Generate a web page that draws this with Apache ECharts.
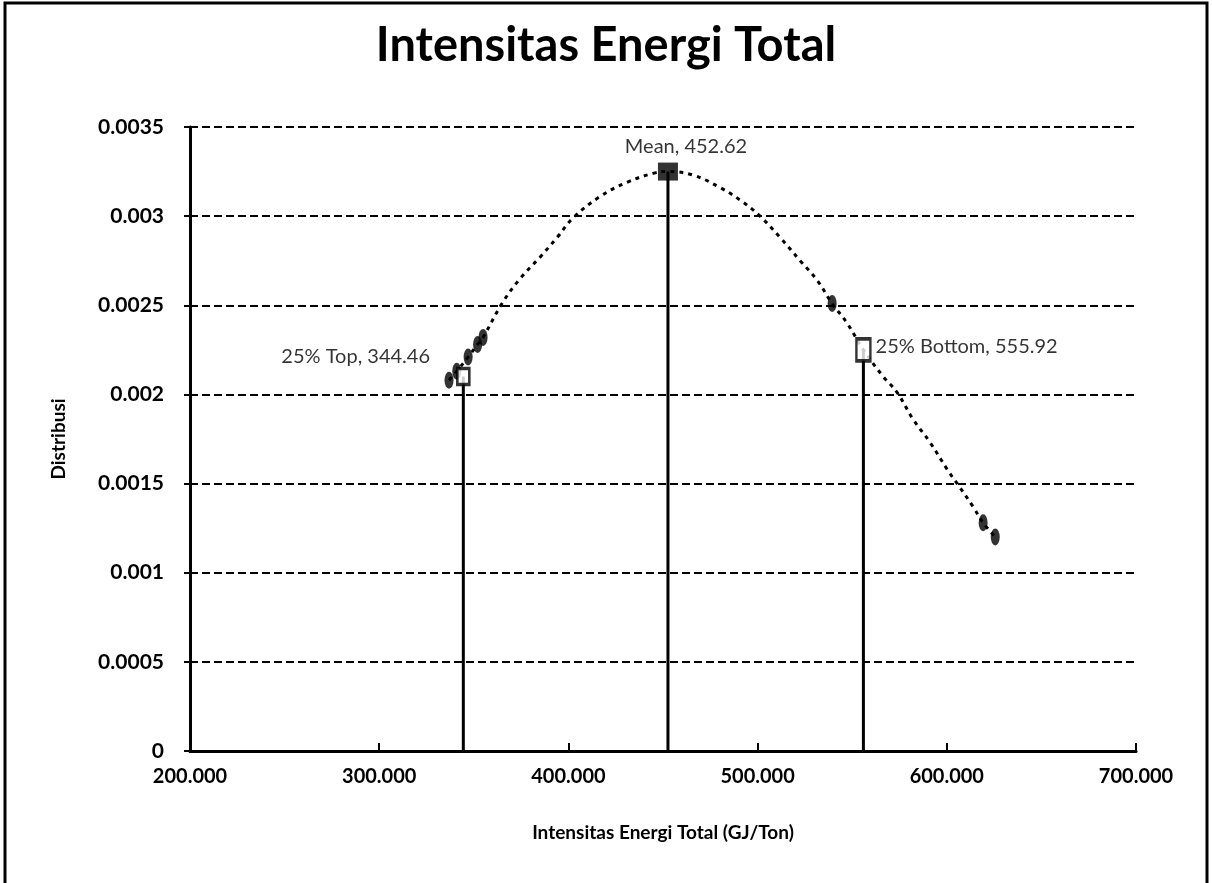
<!DOCTYPE html>
<html>
<head>
<meta charset="utf-8">
<script src="https://cdn.jsdelivr.net/npm/echarts@6/dist/echarts.min.js"></script>
<style>
html,body{margin:0;padding:0;background:#fff;}
#c{width:1212px;height:883px;}
</style>
</head>
<body>
<div id="c"></div>
<script>
// ---- data ----
const titleText = 'Intensitas Energi Total';
const xAxisName = 'Intensitas Energi Total (GJ/Ton)';
const yAxisName = 'Distribusi';
const xMin = 200, xMax = 700, xStep = 100;
const yMin = 0, yMax = 0.0035, yStep = 0.0005;

// dotted distribution curve (x, density)
const curveX = [336.9, 341.0, 347.0, 352.0, 354.9, 364.9, 374.5, 385.0, 394.0, 402.5, 416.7, 431.0, 444.8, 452.62, 465.9, 480.2, 490.8, 501.3, 511.9, 522.5, 531.5, 539.4, 547.3, 555.92, 566.4, 573.8, 582.2, 591.2, 600.2, 605.5, 613.9, 619.2, 625.6];
const curveY = [0.00208, 0.00213, 0.00221, 0.00228, 0.00232, 0.00251, 0.00265, 0.00277, 0.00288, 0.00299, 0.00311, 0.00319, 0.00324, 0.00325, 0.00323, 0.00316, 0.00309, 0.00300, 0.00288, 0.00275, 0.00264, 0.00251, 0.00240, 0.00225, 0.00210, 0.00201, 0.00186, 0.00173, 0.00158, 0.00150, 0.00137, 0.00128, 0.00120];

// data-point markers on the curve
const pointX = [336.9, 341.0, 347.0, 352.0, 354.9, 539.4, 619.2, 625.6];
const pointY = [0.00208, 0.00213, 0.00221, 0.00228, 0.00232, 0.00251, 0.00128, 0.00120];

// reference lines (percentiles / mean)
const refNames = ['25% Top', 'Mean', '25% Bottom'];
const refX = [344.46, 452.62, 555.92];
const refY = [0.00210, 0.00325, 0.00225];

const curveData = curveX.map((x, i) => [x, curveY[i]]);
const pointData = pointX.map((x, i) => [x, pointY[i]]);

const refSeries = refNames.map((n, i) => ({
  type: 'line',
  name: n,
  data: [[refX[i], 0], [refX[i], refY[i]]],
  symbol: 'none',
  lineStyle: { color: '#000', width: 3, type: 'solid' },
  z: 3,
  silent: true
}));

const FONT = 'Lato, "Open Sans", sans-serif';
const labelPos = ['left', 'top', 'right'];
const labelOffset = [[-4, -20], [18, 0], [0, -3]];
const refMarkData = refNames.map((n, i) => ({
  value: [refX[i], refY[i]],
  symbol: 'rect',
  symbolSize: i === 1 ? [20, 18] : (i === 2 ? [14, 22] : [12, 16]),
  itemStyle: i === 1 ? { color: '#000' } : { color: '#fff', borderColor: '#000', borderWidth: 3 },
  label: {
    show: true,
    position: labelPos[i],
    distance: i === 0 ? 22 : (i === 1 ? 6 : 4),
    offset: labelOffset[i],
    formatter: n + ', ' + refX[i].toFixed(2),
    fontFamily: FONT,
    fontSize: 20,
    color: '#000'
  }
}));

const chart = echarts.init(document.getElementById('c'), null, { renderer: 'canvas' });
chart.setOption({
  backgroundColor: '#fff',
  animation: false,
  title: {
    text: titleText,
    left: 'center',
    top: 17,
    textStyle: { fontFamily: FONT, fontWeight: 'bold', fontSize: 47, color: '#000' }
  },
  graphic: [{
    type: 'rect',
    shape: { x: 5, y: 3, width: 1202, height: 900 },
    style: { fill: 'none', stroke: '#000', lineWidth: 3 },
    silent: true
  }],
  grid: { left: 190, right: 76, top: 127, bottom: 132, containLabel: false },
  xAxis: {
    type: 'value',
    min: xMin, max: xMax, interval: xStep,
    name: xAxisName,
    nameLocation: 'middle',
    nameGap: 72,
    nameTextStyle: { fontFamily: FONT, fontWeight: 'bold', fontSize: 19, color: '#000' },
    axisLine: { show: true, lineStyle: { color: '#000', width: 3 } },
    axisTick: { show: true, inside: true, length: 8, lineStyle: { color: '#000', width: 2 } },
    axisLabel: {
      formatter: v => v.toFixed(3),
      margin: 16,
      fontFamily: FONT, fontWeight: 'bold', fontSize: 20, color: '#000'
    },
    splitLine: { show: false }
  },
  yAxis: {
    type: 'value',
    min: yMin, max: yMax, interval: yStep,
    name: yAxisName,
    nameLocation: 'middle',
    nameGap: 122,
    nameRotate: 90,
    nameTextStyle: { fontFamily: FONT, fontWeight: 'bold', fontSize: 19, color: '#000' },
    axisLine: { show: true, lineStyle: { color: '#000', width: 3 } },
    axisTick: { show: true, length: 6, lineStyle: { color: '#000', width: 2 } },
    axisLabel: {
      margin: 26,
      fontFamily: FONT, fontWeight: 'bold', fontSize: 21, color: '#000'
    },
    splitLine: { show: true, lineStyle: { color: '#000', width: 2, type: [8, 4] } }
  },
  series: [
    {
      type: 'line',
      name: 'curve',
      data: curveData,
      smooth: 0.4,
      symbol: 'none',
      lineStyle: { color: '#000', width: 3, type: [4, 5] },
      z: 2,
      silent: true
    },
    {
      type: 'scatter',
      name: 'points',
      data: pointData,
      symbol: 'circle',
      symbolSize: [9, 17],
      itemStyle: { color: '#000' },
      z: 4,
      silent: true
    },
    ...refSeries,
    {
      type: 'scatter',
      name: 'refMarks',
      data: refMarkData,
      z: 5,
      silent: true
    }
  ]
});
</script>
</body>
</html>
